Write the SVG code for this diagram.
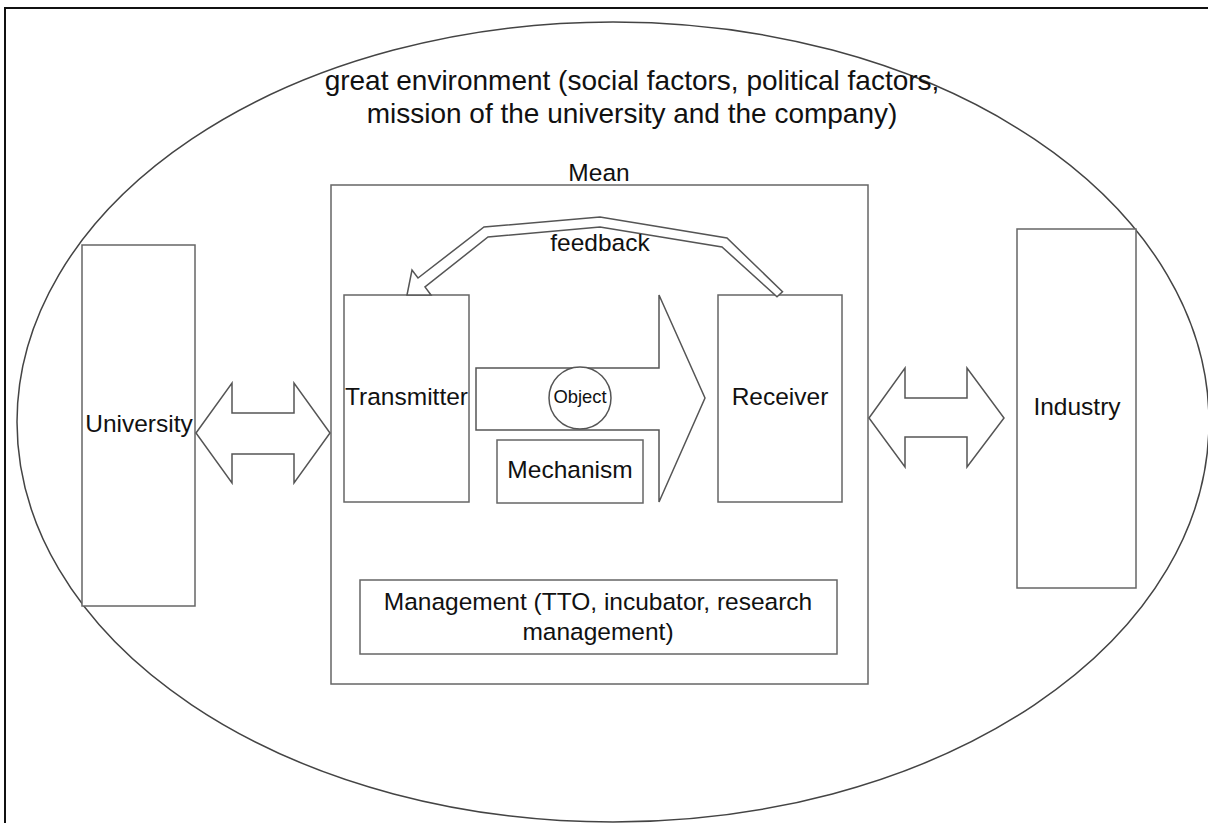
<svg xmlns="http://www.w3.org/2000/svg" width="1208" height="823" viewBox="0 0 1208 823">
<style>
  .box { fill: #ffffff; stroke: #666666; stroke-width: 1.5; }
  .shape { fill: #ffffff; stroke: #555555; stroke-width: 1.5; stroke-linejoin: miter; }
  .t { font-family: "Liberation Sans", Arial, sans-serif; font-size: 24.5px; fill: #111111; text-anchor: middle; }
  .title { font-size: 28px; }
  .small { font-size: 18.4px; }
</style>
<rect x="0" y="0" width="1208" height="823" fill="#ffffff"/>
<g id="frame">
  <path d="M5 823 V8 H1208" fill="none" stroke="#111111" stroke-width="2"/>
</g>
<g id="environment">
  <ellipse cx="613" cy="422" rx="596" ry="400" fill="#ffffff" stroke="#444444" stroke-width="1.5"/>
  <text class="t title" x="632" y="90">great environment (social factors, political factors,</text>
  <text class="t title" x="632" y="123">mission of the university and the company)</text>
</g>
<g id="mean">
  <rect class="box" x="331" y="185" width="537" height="499"/>
  <text class="t" x="599" y="181">Mean</text>
</g>
<g id="university">
  <rect class="box" x="82" y="245" width="113" height="361"/>
  <text class="t" x="139" y="432">University</text>
</g>
<g id="industry">
  <rect class="box" x="1017" y="229" width="119" height="359"/>
  <text class="t" x="1077" y="415">Industry</text>
</g>
<g id="transmitter">
  <rect class="box" x="344" y="295" width="125" height="207"/>
  <text class="t" x="406.5" y="405">Transmitter</text>
</g>
<g id="receiver">
  <rect class="box" x="718" y="295" width="124" height="207"/>
  <text class="t" x="780" y="405">Receiver</text>
</g>
<g id="connectors">
  <polygon class="shape" points="196,433 232,383 232,413 294,413 294,383 330,433 294,483 294,454 232,454 232,483"/>
  <polygon class="shape" points="869,418 905,368 905,398 967,398 967,368 1004,418 967,467 967,437 905,437 905,467"/>
  <polygon class="shape" points="476,368 659,368 659,295 705,398 659,502 659,430 476,430"/>
  <polygon class="shape" points="407,295 412,270 418,278 484,227 600,217 727,238 782.5,291.7 777,296.7 722,247 600,227 488,237 425,287 431,295"/>
  <text class="t" x="600" y="251">feedback</text>
</g>
<g id="object">
  <circle class="shape" cx="580" cy="398" r="31"/>
  <text class="t small" x="580" y="403">Object</text>
</g>
<g id="mechanism">
  <rect class="box" x="497" y="440" width="146" height="63"/>
  <text class="t" x="570" y="478">Mechanism</text>
</g>
<g id="management">
  <rect class="box" x="360" y="580" width="477" height="74"/>
  <text class="t" x="598" y="610">Management (TTO, incubator, research</text>
  <text class="t" x="598" y="640">management)</text>
</g>
</svg>
